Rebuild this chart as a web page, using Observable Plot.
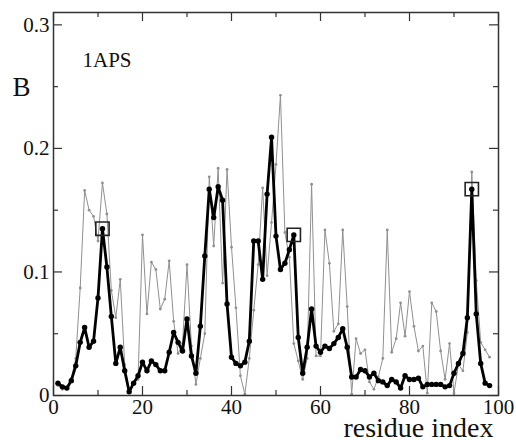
<!DOCTYPE html>
<html>
<head>
<meta charset="utf-8">
<script src="https://cdn.jsdelivr.net/npm/d3@7"></script>
<script src="https://cdn.jsdelivr.net/npm/@observablehq/plot@0.6"></script>
<style>
  html, body { margin: 0; padding: 0; background: #fff; }
  #chart svg, #chart svg text { font-family: "Liberation Serif", "Times New Roman", Times, serif !important; }
</style>
</head>
<body>
<div id="chart"></div>
<script>
// residue indices 1..98
const residue = d3.range(1, 99);

// thick black series (with filled dots)
const bBlack = [
  0.010, 0.007, 0.006, 0.012, 0.024, 0.043, 0.055, 0.039, 0.044, 0.079,
  0.135, 0.104, 0.064, 0.026, 0.039, 0.020, 0.003, 0.010, 0.016, 0.027,
  0.020, 0.028, 0.025, 0.020, 0.020, 0.035, 0.051, 0.043, 0.036, 0.062,
  0.032, 0.018, 0.056, 0.113, 0.167, 0.144, 0.169, 0.158, 0.074, 0.031,
  0.026, 0.024, 0.027, 0.044, 0.125, 0.125, 0.094, 0.163, 0.209, 0.129,
  0.102, 0.107, 0.118, 0.130, 0.047, 0.018, 0.039, 0.070, 0.040, 0.035,
  0.040, 0.038, 0.042, 0.047, 0.054, 0.039, 0.015, 0.015, 0.021, 0.020,
  0.015, 0.018, 0.012, 0.011, 0.008, 0.013, 0.011, 0.006, 0.016, 0.013,
  0.013, 0.014, 0.007, 0.009, 0.009, 0.009, 0.009, 0.007, 0.008, 0.018,
  0.026, 0.034, 0.063, 0.167, 0.066, 0.026, 0.010, 0.008
];

// thin gray series (small markers)
const bGray = [
  0.008, 0.005, 0.006, 0.014, 0.030, 0.087, 0.166, 0.150, 0.145, 0.125,
  0.172, 0.147, 0.085, 0.063, 0.094, 0.025, 0.004, 0.010, 0.013, 0.130,
  0.066, 0.108, 0.102, 0.070, 0.078, 0.109, 0.060, 0.034, 0.042, 0.106,
  0.040, 0.009, 0.030, 0.050, 0.177, 0.121, 0.184, 0.091, 0.183, 0.120,
  0.071, 0.016, 0.001, 0.030, 0.069, 0.106, 0.168, 0.097, 0.140, 0.187,
  0.243, 0.132, 0.112, 0.042, 0.028, 0.013, 0.030, 0.171, 0.032, 0.032,
  0.134, 0.107, 0.052, 0.058, 0.134, 0.072, 0.001, 0.046, 0.034, 0.037,
  0.011, 0.005, 0.015, 0.030, 0.134, 0.035, 0.046, 0.075, 0.048, 0.084,
  0.056, 0.036, 0.040, 0.002, 0.075, 0.068, 0.036, 0.013, 0.042, 0.002,
  0.025, 0.020, 0.051, 0.181, 0.093, 0.043, 0.037, 0.031
];

// highlighted residues (boxes)
const boxResidues = [11, 54, 94];

// ticks
const xMajor = [0, 20, 40, 60, 80, 100];
const xMinor = [10, 30, 50, 70, 90];
const yMajor = [0, 0.1, 0.2, 0.3];
const yMinor = [0.05, 0.15, 0.25];

const rows = residue.map((r, i) => ({r, black: bBlack[i], gray: bGray[i]}));
const boxRows = boxResidues.map(r => ({r, v: bBlack[residue.indexOf(r)]}));

const W = 516, H = 440;
const mL = 53, mR = 18, mT = 12, mB = 45;
const innerW = W - mL - mR, innerH = H - mT - mB;
const major = 9, minor = 5;
const tickColor = "#333";
const serif = "'Liberation Serif', 'Times New Roman', Times, serif";

const chart = Plot.plot({
  width: W, height: H,
  marginLeft: mL, marginRight: mR, marginTop: mT, marginBottom: mB,
  style: {fontFamily: serif, fontSize: "21px", color: "#111", background: "#fff"},
  x: {domain: [0, 100], ticks: xMajor, tickSize: 0, tickPadding: 4, label: null, tickFormat: d => String(d)},
  y: {domain: [0, 0.31], ticks: yMajor, tickSize: 0, tickPadding: 4, label: null, tickFormat: d => d === 0 ? "0" : d.toFixed(1)},
  marks: [
    // inward ticks on all four sides
    Plot.tickX(xMajor, {x: d => d, insetTop: innerH - major, stroke: tickColor, strokeWidth: 1.2}),
    Plot.tickX(xMinor, {x: d => d, insetTop: innerH - minor, stroke: tickColor, strokeWidth: 1.2}),
    Plot.tickX(xMajor, {x: d => d, insetBottom: innerH - major, stroke: tickColor, strokeWidth: 1.2}),
    Plot.tickX(xMinor, {x: d => d, insetBottom: innerH - minor, stroke: tickColor, strokeWidth: 1.2}),
    Plot.tickY(yMajor, {y: d => d, insetRight: innerW - major, stroke: tickColor, strokeWidth: 1.2}),
    Plot.tickY(yMinor, {y: d => d, insetRight: innerW - minor, stroke: tickColor, strokeWidth: 1.2}),
    Plot.tickY(yMajor, {y: d => d, insetLeft: innerW - major, stroke: tickColor, strokeWidth: 1.2}),
    Plot.tickY(yMinor, {y: d => d, insetLeft: innerW - minor, stroke: tickColor, strokeWidth: 1.2}),
    // gray series
    Plot.lineY(rows, {x: "r", y: "gray", stroke: "#909090", strokeWidth: 1}),
    Plot.dot(rows, {x: "r", y: "gray", r: 1.4, fill: "#909090"}),
    // black series
    Plot.lineY(rows, {x: "r", y: "black", stroke: "#000", strokeWidth: 2.8}),
    Plot.dot(rows, {x: "r", y: "black", r: 2.7, fill: "#000"}),
    // boxes
    Plot.dot(boxRows, {x: "r", y: "v", symbol: "square", r: 7.5, stroke: "#222", strokeWidth: 1.6, fill: "none"}),
    Plot.frame({stroke: "#333", strokeWidth: 1.5}),
    // labels
    Plot.text(["B"], {frameAnchor: "top-left", textAnchor: "start", lineAnchor: "bottom", dx: 12 - mL, dy: 95 - mT, fontSize: 27, fontFamily: serif, fill: "#111"}),
    Plot.text(["1APS"], {frameAnchor: "top-left", textAnchor: "start", lineAnchor: "bottom", dx: 29, dy: 54, fontSize: 21, fontFamily: serif, fill: "#111"}),
    Plot.text(["residue index"], {frameAnchor: "bottom-right", textAnchor: "end", lineAnchor: "bottom", dx: -5, dy: 41, fontSize: 28, fontFamily: serif, fill: "#111"})
  ]
});

document.getElementById("chart").appendChild(chart);
</script>
</body>
</html>
